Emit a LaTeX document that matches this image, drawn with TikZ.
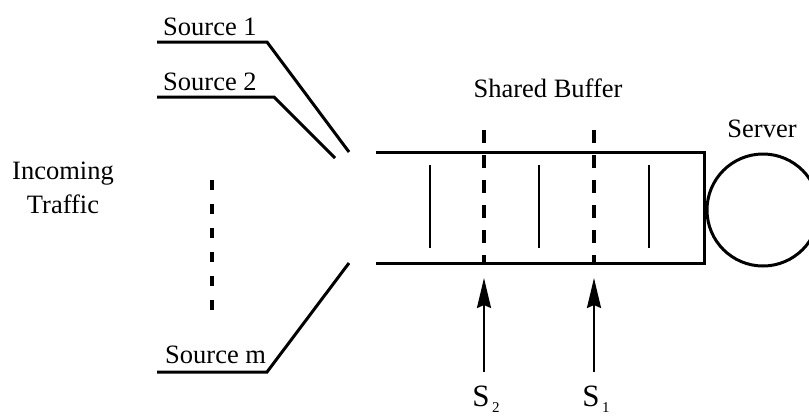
\documentclass[tikz,border=0pt]{standalone}
\usepackage{fontspec}
\setmainfont{Liberation Serif}
\usetikzlibrary{arrows.meta}
\begin{document}
\begin{tikzpicture}[x=1pt,y=-1pt,
  thick line/.style={line width=3pt,line cap=butt},
  thin bar/.style={line width=1.5pt},
  label text/.style={font=\fontsize{26.5}{34}\selectfont,inner sep=0pt},
  source label/.style={label text,anchor=base west},
  marker/.style={line width=3.2pt,dash pattern=on 13pt off 12pt},
  gap dots/.style={line width=3.2pt,dash pattern=on 10pt off 14pt},
  pointer/.style={line width=2.2pt,-{Stealth[length=30pt,width=14pt,inset=3pt]}},
  sublabel/.style={font=\fontsize{31}{34}\selectfont,inner sep=0pt,anchor=base}
]
\clip (0,0) rectangle (809,416);

% incoming source lines
\coordinate (s1a) at (157,42);  \coordinate (s1b) at (267,42);  \coordinate (s1c) at (349,152);
\coordinate (s2a) at (157,97);  \coordinate (s2b) at (274,97);  \coordinate (s2c) at (335,158);
\coordinate (sma) at (157,372); \coordinate (smb) at (267,372); \coordinate (smc) at (349,263);
\draw[thick line,line join=miter] (s1a) -- (s1b) -- (s1c);
\draw[thick line,line join=miter] (s2a) -- (s2b) -- (s2c);
\draw[thick line,line join=miter] (sma) -- (smb) -- (smc);

\node[source label] (src1) at (163,35) {Source 1};
\node[source label] (src2) at (163,90) {Source 2};
\node[source label] (srcm) at (165,363) {Source m};

% the elided sources
\coordinate (dtop) at (212,180);
\coordinate (dbot) at (212,310);
\draw[gap dots] (dtop) -- (dbot);

\node[label text,align=center] (traffic) at (63,188) {Incoming\\[-0.5pt]Traffic};

% shared buffer
\coordinate (btl) at (376,152); \coordinate (btr) at (704,152);
\coordinate (bbr) at (704,263);  \coordinate (bbl) at (376,263);
\draw[thick line,line join=miter] (btl) -- (btr) -- (bbr) -- (bbl);
\node[label text,anchor=base] (buffer) at (548,97) {Shared Buffer};

% packet slots
\foreach \x in {430,539,649}
  \draw[thin bar] (\x,165) -- (\x,248);

% thresholds
\coordinate (t2top) at (484,130); \coordinate (t2bot) at (484,263);
\coordinate (t1top) at (594,130); \coordinate (t1bot) at (594,263);
\draw[marker] (t2top) -- (t2bot);
\draw[marker] (t1top) -- (t1bot);

\coordinate (a2from) at (484,372); \coordinate (a2to) at (484,278);
\coordinate (a1from) at (594,372); \coordinate (a1to) at (594,278);
\draw[pointer] (a2from) -- (a2to);
\draw[pointer] (a1from) -- (a1to);

\node[sublabel] (lab2) at (486,406) {S\raisebox{-6pt}{\fontsize{15}{15}\selectfont\,2}};
\node[sublabel] (lab1) at (596,406) {S\raisebox{-6pt}{\fontsize{15}{15}\selectfont\,1}};

% server
\node[circle,draw,line width=3pt,minimum size=112pt,inner sep=0pt] (server) at (763,210) {};
\node[label text,anchor=base] (serverlab) at (762,137) {Server};
\end{tikzpicture}
\end{document}
